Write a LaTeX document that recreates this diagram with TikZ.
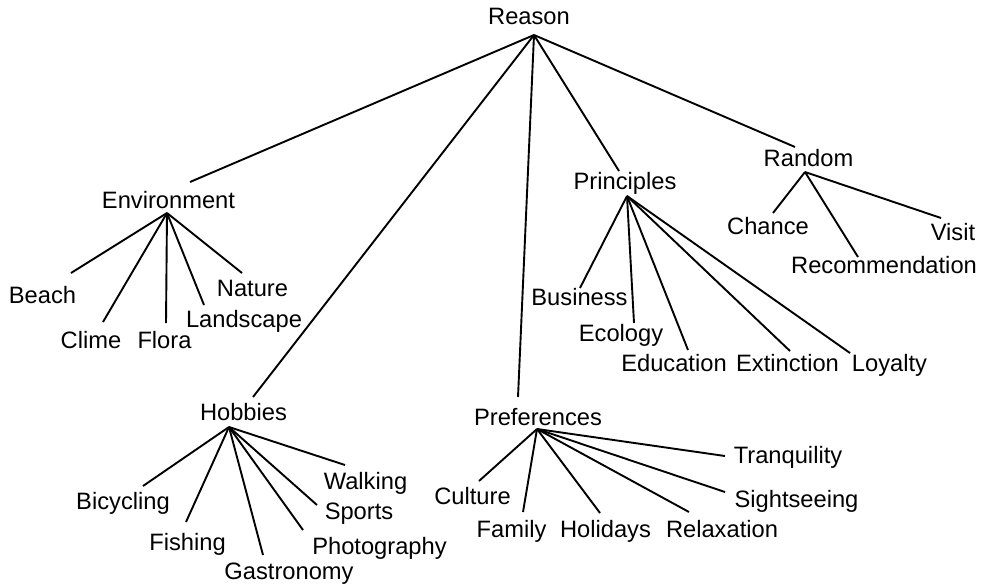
\documentclass[tikz,border=0pt]{standalone}
\usepackage{fontspec}
\setmainfont{Liberation Sans}
\begin{document}
\begin{tikzpicture}[x=1pt,y=-1pt,
  lbl/.style={anchor=base,inner sep=0pt,font=\fontsize{23.7pt}{28pt}\selectfont},
  edge/.style={line width=1.9pt,black}]
\useasboundingbox[fill=white] (0,0) rectangle (981,587);
% labels
\node[lbl] (reason) at (529,24) {Reason};
\node[lbl] (env) at (168.5,208) {Environment};
\node[lbl] (beach) at (42.5,303) {Beach};
\node[lbl] (clime) at (91,348) {Clime};
\node[lbl] (flora) at (164.5,348) {Flora};
\node[lbl] (landscape) at (244,327) {Landscape};
\node[lbl] (nature) at (252.5,296) {Nature};
\node[lbl] (hobbies) at (243.5,420) {Hobbies};
\node[lbl] (bicycling) at (123,509) {Bicycling};
\node[lbl] (fishing) at (187.5,550) {Fishing};
\node[lbl] (gastronomy) at (289,579) {Gastronomy};
\node[lbl] (photography) at (379.5,554) {Photography};
\node[lbl] (sports) at (359,519) {Sports};
\node[lbl] (walking) at (365.5,489) {Walking};
\node[lbl] (pref) at (538,425) {Preferences};
\node[lbl] (culture) at (472.5,504) {Culture};
\node[lbl] (family) at (511.5,537) {Family};
\node[lbl] (holidays) at (605.5,537) {Holidays};
\node[lbl] (relaxation) at (722,537) {Relaxation};
\node[lbl] (tranquility) at (788,463) {Tranquility};
\node[lbl] (sightseeing) at (796.5,507) {Sightseeing};
\node[lbl] (princ) at (625,189) {Principles};
\node[lbl] (business) at (579.5,305) {Business};
\node[lbl] (ecology) at (621,341) {Ecology};
\node[lbl] (education) at (674,371) {Education};
\node[lbl] (extinction) at (787.5,371) {Extinction};
\node[lbl] (loyalty) at (889.5,371) {Loyalty};
\node[lbl] (random) at (808.5,166) {Random};
\node[lbl] (chance) at (768,234) {Chance};
\node[lbl] (visit) at (953,240) {Visit};
\node[lbl] (recom) at (884,273) {Recommendation};
% hubs
\coordinate (reasonH) at (534,35);
\coordinate (envH) at (167,213);
\coordinate (hobH) at (229,427);
\coordinate (prefH) at (537,429);
\coordinate (princH) at (627,196);
\coordinate (randH) at (805,172);
% line ends
\coordinate (envT) at (190,182);
\coordinate (hobT) at (253,397);
\coordinate (prefT) at (518,397);
\coordinate (princT) at (619,171);
\coordinate (randT) at (795,147);
\coordinate (beachT) at (71,273);
\coordinate (climeT) at (103,322);
\coordinate (floraT) at (166,323);
\coordinate (landT) at (204,305);
\coordinate (natT) at (242,273);
\coordinate (bicT) at (143,486);
\coordinate (fishT) at (186,522);
\coordinate (gastT) at (263,555);
\coordinate (photT) at (303,530);
\coordinate (sportT) at (317,505);
\coordinate (walkT) at (345,465);
\coordinate (culT) at (479,481);
\coordinate (famT) at (523,512);
\coordinate (holT) at (600,513);
\coordinate (relT) at (689,512);
\coordinate (sightT) at (725,492);
\coordinate (tranT) at (725,456);
\coordinate (busT) at (580,288);
\coordinate (ecoT) at (634,323);
\coordinate (eduT) at (688,350);
\coordinate (extT) at (790,351);
\coordinate (loyT) at (850,353);
\coordinate (chanceT) at (773,213);
\coordinate (recomT) at (858,257);
\coordinate (visitT) at (941,218);
% edges
\foreach \e in {envT,hobT,prefT,princT,randT} \draw[edge] (reasonH) -- (\e);
\foreach \e in {beachT,climeT,floraT,landT,natT} \draw[edge] (envH) -- (\e);
\foreach \e in {bicT,fishT,gastT,photT,sportT,walkT} \draw[edge] (hobH) -- (\e);
\foreach \e in {culT,famT,holT,relT,sightT,tranT} \draw[edge] (prefH) -- (\e);
\foreach \e in {busT,ecoT,eduT,extT,loyT} \draw[edge] (princH) -- (\e);
\foreach \e in {chanceT,recomT,visitT} \draw[edge] (randH) -- (\e);
\end{tikzpicture}
\end{document}
